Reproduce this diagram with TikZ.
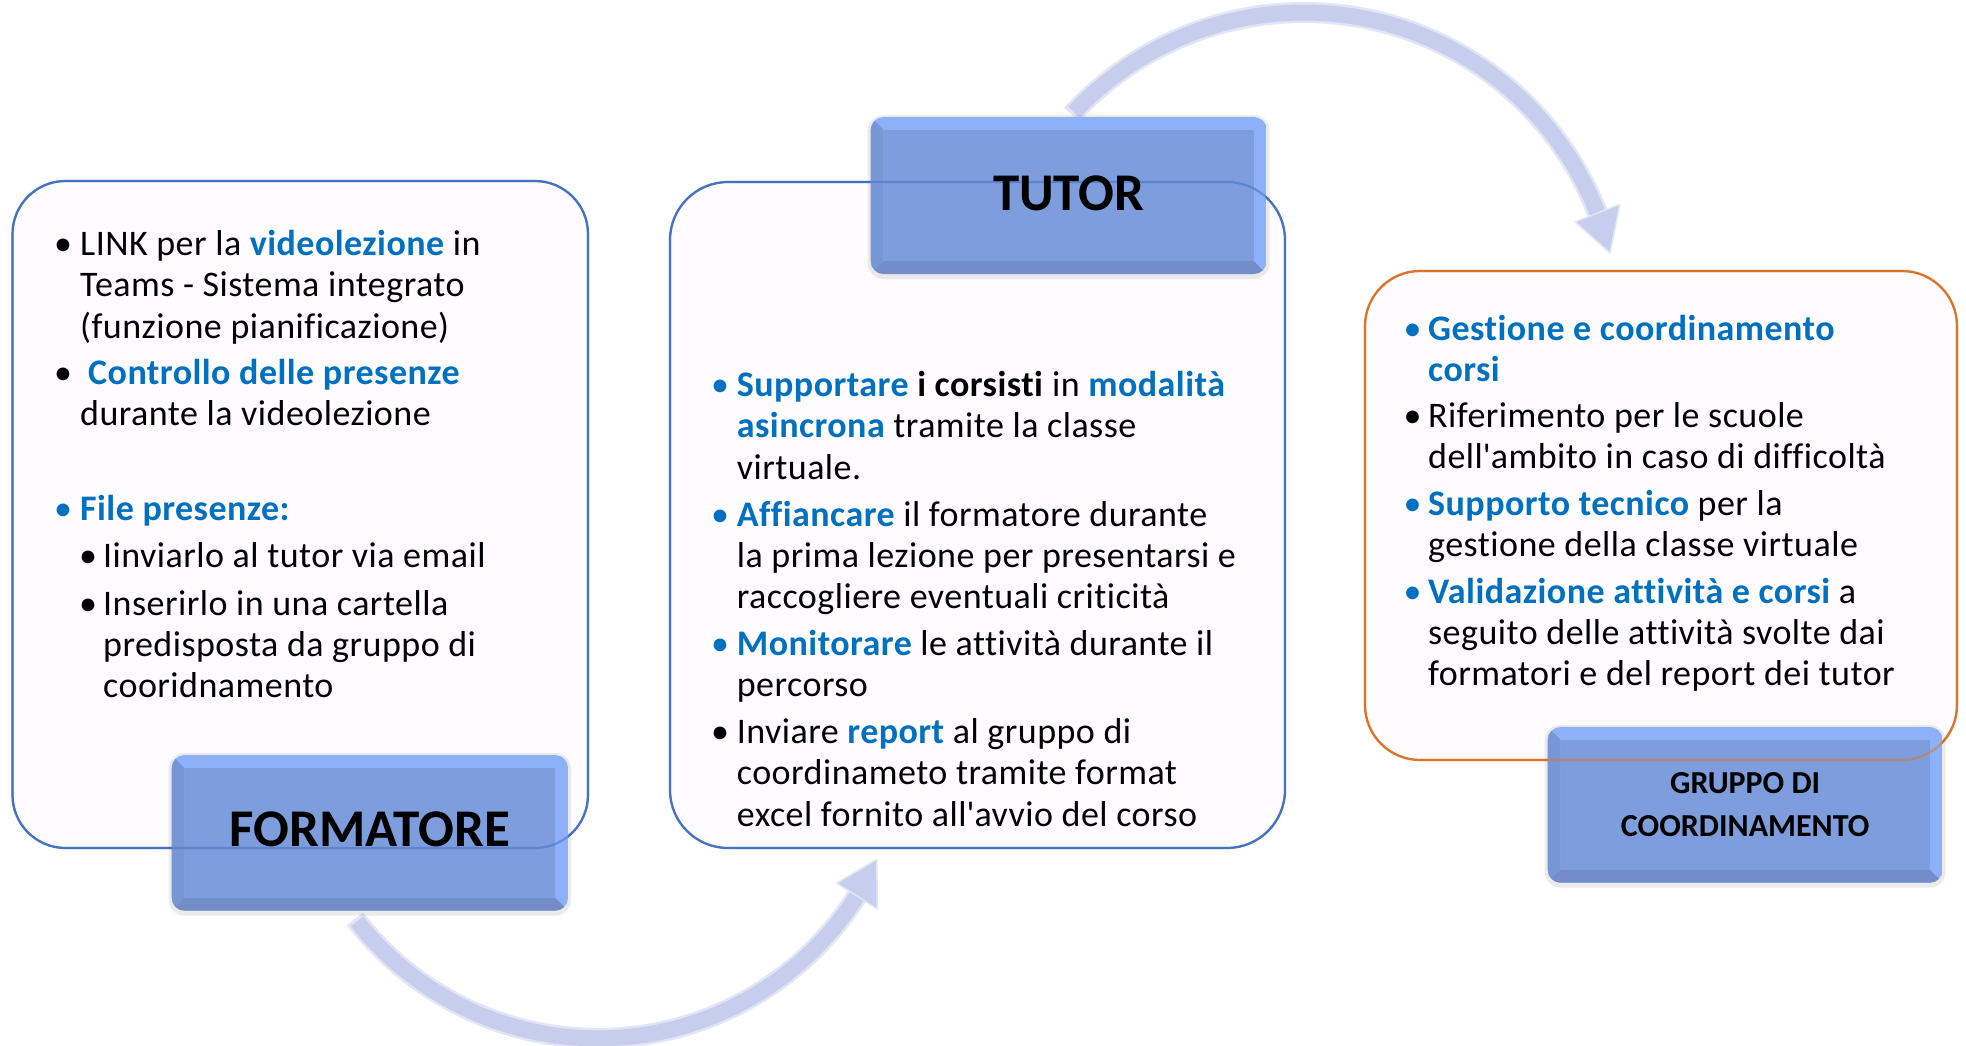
\documentclass[tikz,border=0pt]{standalone}
\usepackage{fontspec}
\setmainfont{Carlito}[Ligatures=NoCommon]
\newfontfamily\bodyfam{Carlito}[Ligatures=NoCommon,LetterSpace=1.3]
\usetikzlibrary{calc}
\definecolor{tblue}{RGB}{0,112,192}
\definecolor{bord}{RGB}{68,114,196}
\definecolor{orng}{RGB}{222,116,42}
\definecolor{lbl}{RGB}{125,157,221}
\definecolor{lbllight}{RGB}{141,177,248}
\definecolor{lblleft}{RGB}{119,150,212}
\definecolor{lbldark}{RGB}{114,141,200}
\definecolor{arr}{RGB}{199,205,236}
\definecolor{arredge}{RGB}{226,229,246}
\definecolor{boxfill}{RGB}{254,252,255}
\newcommand\bluebf[1]{{\bfseries\color{tblue}#1}}
\newcommand\bodyfont{\bodyfam\fontsize{36}{41}\selectfont}
\newcommand\labelfont{\fontsize{53}{60}\selectfont\bfseries}
\newcommand\grpfont{\fontsize{32}{43}\selectfont\bfseries}
\newcommand\bevelbox[2]{%
  \fill[black,opacity=0.08,rounded corners=16pt] ($(#1)+(-3,-2)$) rectangle ($(#2)+(3,5)$);
  \begin{scope}
    \clip[rounded corners=13pt] (#1) rectangle (#2);
    \fill[lbllight] (#1) rectangle (#2);
    \fill[lbldark] (#1 |- #2) -- (#2) -- ($(#2)+(-13,-13)$) -- ($(#1 |- #2)+(13,-13)$) -- cycle;
    \fill[lblleft] (#1) -- ($(#1)+(13,13)$) -- ($(#1 |- #2)+(13,-13)$) -- (#1 |- #2) -- cycle;
    \fill[lbl] ($(#1)+(13,13)$) rectangle ($(#2)+(-13,-13)$);
  \end{scope}}
\begin{document}
\begin{tikzpicture}[x=1pt,y=-1pt,
  txt/.style={anchor=base west,inner sep=0pt,font=\bodyfont},
  bul/.style={anchor=base,inner sep=0pt,font=\bodyfont},
  lbltxt/.style={anchor=base,inner sep=0pt,font=\labelfont},
  grptxt/.style={anchor=base,inner sep=0pt,font=\grpfont},
  cboxl/.style={rounded corners=53pt,line width=2.2pt},
  cboxm/.style={rounded corners=58pt,line width=2.2pt},
  cboxr/.style={rounded corners=55pt,line width=2.2pt},
  bandout/.style={line width=21pt,color=arredge},
  bandin/.style={line width=16pt,color=arr},
  head/.style={fill=arr,draw=arredge,line width=1.5pt,line join=round}]
\useasboundingbox (0,0) rectangle (1966,1046);
\fill[white] (0,0) rectangle (1966,1046);

% coordinates
\coordinate (fa) at (171.7,755);  \coordinate (fb) at (568,910.7);
\coordinate (ta) at (870.7,117);  \coordinate (tb) at (1266.7,274);
\coordinate (ga) at (1547.7,727); \coordinate (gb) at (1942.7,882.7);
\coordinate (c1) at (598,731.7);
\coordinate (c2) at (1304,327.5);

% arrows
\draw[bandout] plot[domain=142.4:31.5,samples=60,smooth,variable=\t] ({598+306.7*cos(\t)},{731.7+306.7*sin(\t)});
\draw[bandin] plot[domain=141.8:31.5,samples=60,smooth,variable=\t] ({598+306.7*cos(\t)},{731.7+306.7*sin(\t)});
\coordinate (h1a) at ($(c1)+(32.4:282.7)$);
\coordinate (h1b) at ($(c1)+(32.4:330.7)$);
\coordinate (h1t) at ($(c1)+(24.6:306.7)$);
\draw[head] (h1a) -- (h1t) -- (h1b) -- cycle;

\draw[bandout] plot[domain=-137.5:-20.4,samples=60,smooth,variable=\t] ({1304+315*cos(\t)},{327.5+315*sin(\t)});
\draw[bandin] plot[domain=-136.9:-20.4,samples=60,smooth,variable=\t] ({1304+315*cos(\t)},{327.5+315*sin(\t)});
\coordinate (h2a) at ($(c2)+(-21.3:291)$);
\coordinate (h2b) at ($(c2)+(-21.3:339)$);
\coordinate (h2t) at ($(c2)+(-13.7:315)$);
\draw[head] (h2a) -- (h2t) -- (h2b) -- cycle;

% content boxes
\draw[cboxl,fill=boxfill,draw=bord] (12.5,181) rectangle (588,848);
\draw[cboxm,fill=boxfill,draw=bord] (670,182) rectangle (1285,848);
\draw[cboxr,fill=boxfill,draw=orng] (1365,271) rectangle (1957,760);

% label boxes
\bevelbox{fa}{fb}
\bevelbox{ta}{tb}
\bevelbox{ga}{gb}

% borders seen through label boxes
\draw[cboxl,draw=bord,opacity=0.55] (12.5,181) rectangle (588,848);
\draw[cboxm,draw=bord,opacity=0.55] (670,182) rectangle (1285,848);
\draw[cboxr,draw=orng,opacity=0.55] (1365,271) rectangle (1957,760);

% label texts
\node[lbltxt] (formatore) at (370,846.7) {FORMATORE};
\node[lbltxt] (tutor) at (1068.7,211) {TUTOR};
\node[grptxt] (gruppo1) at (1745.2,793) {GRUPPO DI};
\node[grptxt] (gruppo2) at (1745.2,836.7) {COORDINAMENTO};

% left box text
\node[bul] (lb1) at (63,255) {•};
\node[txt] (l1) at (80,255) {LINK per la \bluebf{videolezione} in};
\node[txt] (l2) at (80,296.5) {Teams - Sistema integrato};
\node[txt] (l3) at (80,338) {(funzione pianificazione)};
\node[bul] (lb2) at (63,384) {•};
\node[txt] (l4) at (88,384) {\bluebf{Controllo delle presenze}};
\node[txt] (l5) at (80,425.5) {durante la videolezione};
\node[bul,text=tblue] (lb3) at (63,520) {•};
\node[txt] (l6) at (80,520) {\bluebf{File presenze:}};
\node[bul] (lb4) at (88,567) {•};
\node[txt] (l7) at (103,567) {Iinviarlo al tutor via email};
\node[bul] (lb5) at (88,615.7) {•};
\node[txt] (l8) at (103,615.7) {Inserirlo in una cartella};
\node[txt] (l9) at (103,656.5) {predisposta da gruppo di};
\node[txt] (l10) at (103,697.5) {cooridnamento};

% middle box text
\node[bul,text=tblue] (mb1) at (720,396.7) {•};
\node[txt] (m1) at (736.7,396.7) {\bluebf{Supportare} \textbf{i corsisti} in \bluebf{modalità}};
\node[txt] (m2) at (736.7,437.9) {\bluebf{asincrona} tramite la classe};
\node[txt] (m3) at (736.7,479.1) {virtuale.};
\node[bul,text=tblue] (mb2) at (720,526.1) {•};
\node[txt] (m4) at (736.7,526.1) {\bluebf{Affiancare} il formatore durante};
\node[txt] (m5) at (736.7,567.3) {la prima lezione per presentarsi e};
\node[txt] (m6) at (736.7,608.5) {raccogliere eventuali criticità};
\node[bul,text=tblue] (mb3) at (720,655.5) {•};
\node[txt] (m7) at (736.7,655.5) {\bluebf{Monitorare} le attività durante il};
\node[txt] (m8) at (736.7,696.7) {percorso};
\node[bul] (mb4) at (720,743.7) {•};
\node[txt] (m9) at (736.7,743.7) {Inviare \bluebf{report} al gruppo di};
\node[txt] (m10) at (736.7,784.9) {coordinameto tramite format};
\node[txt] (m11) at (736.7,826.1) {excel fornito all\textquotesingle avvio del corso};

% right box text
\node[bul,text=tblue] (rb1) at (1412.5,340) {•};
\node[txt] (r1) at (1428,340) {\bluebf{Gestione e coordinamento}};
\node[txt] (r2) at (1428,381.2) {\bluebf{corsi}};
\node[bul] (rb2) at (1412.5,427) {•};
\node[txt] (r3) at (1428,427) {Riferimento per le scuole};
\node[txt] (r4) at (1428,468.3) {dell\textquotesingle ambito in caso di difficoltà};
\node[bul,text=tblue] (rb3) at (1412.5,515.3) {•};
\node[txt] (r5) at (1428,515.3) {\bluebf{Supporto tecnico} per la};
\node[txt] (r6) at (1428,556.5) {gestione della classe virtuale};
\node[bul,text=tblue] (rb4) at (1412.5,603.5) {•};
\node[txt] (r7) at (1428,603.5) {\bluebf{Validazione attività e corsi} a};
\node[txt] (r8) at (1428,644.7) {seguito delle attività svolte dai};
\node[txt] (r9) at (1428,685.9) {formatori e del report dei tutor};
\end{tikzpicture}
\end{document}
